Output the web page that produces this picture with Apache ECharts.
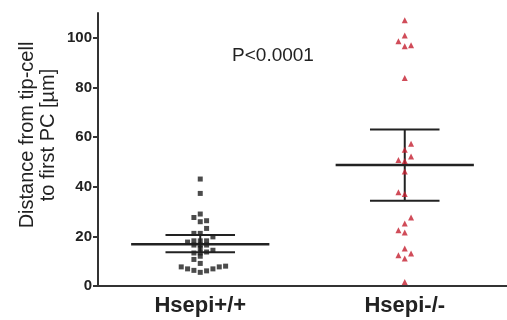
<!DOCTYPE html>
<html>
<head>
<meta charset="utf-8">
<script src="https://cdn.jsdelivr.net/npm/echarts@6/dist/echarts.min.js"></script>
<style>
  html, body { margin: 0; padding: 0; background: #fff; }
  #chart { width: 507px; height: 320px; }
</style>
</head>
<body>
<div id="chart"></div>
<script>
// categories and tick labels
const categories = ["Hsepi+/+", "Hsepi-/-"];
const yTicks = [0, 20, 40, 60, 80, 100];

// individual measurements (µm) and their jitter lane (column offset)
const wtValues = [43.1, 37.3, 29.0, 27.6, 25.9, 26.3, 23.2, 21.2, 21.2, 19.8, 17.7,
  18.2, 18.2, 18.2, 16.5, 16.5, 16.5, 15.1, 13.3, 13.3, 13.7, 14.4, 12.0, 10.7, 9.1,
  7.7, 6.9, 6.3, 5.5, 6.1, 6.9, 7.7, 8.0];
const wtLanes = [0, 0, 0, -1, 0, 1, 1, -1, 0, 2, -2,
  -1, 0, 1, -1, 0, 1, 0, -1, 0, 1, 2, 0, -1, 0,
  -3, -2, -1, 0, 1, 2, 3, 4];

const koValues = [107.1, 100.9, 98.6, 96.6, 97.0, 83.8, 57.3, 54.9, 52.2, 50.8, 50.4,
  46.1, 37.8, 37.1, 27.6, 25.2, 22.5, 21.6, 15.1, 12.4, 13.1, 11.1, 1.6];
const koLanes = [0, 0, -1, 0, 1, 0, 1, 0, 1, -1, 0,
  0, -1, 0, 1, 0, -1, 0, 0, -1, 1, 0, 0];

// mean and 95% CI per group
const means = [16.8, 48.8];
const ciLow = [13.6, 34.4];
const ciHigh = [20.5, 63.1];

const LANE = 0.031;
const toPoints = (vals, lanes, idx) => vals.map((v, i) => [idx + lanes[i] * LANE, v]);

const chart = echarts.init(document.getElementById("chart"));
const txt = "#222";
const font = "Liberation Sans, Arial, sans-serif";

chart.setOption({
  animation: false,
  grid: { left: 98, right: 0, top: 13, bottom: 34 },
  xAxis: [
    {
      type: "category",
      data: categories,
      axisLine: { lineStyle: { color: "#333", width: 2 } },
      axisTick: { alignWithLabel: true, length: 5, lineStyle: { color: "#333", width: 2 } },
      axisLabel: { color: txt, fontSize: 22, fontWeight: "bold", fontFamily: font, margin: 9 }
    },
    { type: "value", min: -0.5, max: 1.5, show: false }
  ],
  yAxis: {
    type: "value",
    min: 0,
    max: 110,
    splitLine: { show: false },
    axisLine: { show: true, onZero: false, lineStyle: { color: "#333", width: 2 } },
    axisTick: { show: true, length: 5, customValues: yTicks, lineStyle: { color: "#333", width: 2 } },
    axisLabel: { color: txt, fontSize: 15, fontWeight: "bold", fontFamily: font, margin: 6, customValues: yTicks }
  },
  graphic: [
    {
      type: "text",
      x: 38, y: 135,
      rotation: Math.PI / 2,
      style: {
        text: "Distance from tip-cell\nto first PC [µm]",
        fontSize: 20, fontFamily: font, fill: txt,
        align: "center", verticalAlign: "middle", lineHeight: 21
      }
    },
    {
      type: "text",
      x: 273, y: 56,
      style: {
        text: "P<0.0001",
        fontSize: 19, fontFamily: font, fill: txt,
        align: "center", verticalAlign: "middle"
      }
    }
  ],
  series: [
    {
      type: "custom",
      xAxisIndex: 1,
      z: 1,
      data: means.map((m, i) => [i, m, ciLow[i], ciHigh[i]]),
      renderItem: function (params, api) {
        const x = api.value(0);
        const mL = api.coord([x - 0.338, api.value(1)]);
        const mR = api.coord([x + 0.338, api.value(1)]);
        const lo = api.coord([x, api.value(2)]);
        const hi = api.coord([x, api.value(3)]);
        const cw = api.size([0.17, 0])[0];
        const st = { stroke: "#222", lineWidth: 2 };
        return {
          type: "group",
          children: [
            { type: "line", shape: { x1: mL[0], y1: mL[1], x2: mR[0], y2: mR[1] }, style: Object.assign({}, st, { lineWidth: 2.5 }) },
            { type: "line", shape: { x1: hi[0], y1: hi[1], x2: lo[0], y2: lo[1] }, style: st },
            { type: "line", shape: { x1: hi[0] - cw, y1: hi[1], x2: hi[0] + cw, y2: hi[1] }, style: st },
            { type: "line", shape: { x1: lo[0] - cw, y1: lo[1], x2: lo[0] + cw, y2: lo[1] }, style: st }
          ]
        };
      }
    },
    {
      type: "scatter",
      xAxisIndex: 1,
      z: 2,
      symbol: "rect",
      symbolSize: 5,
      itemStyle: { color: "#1e1e1e" },
      data: toPoints(wtValues, wtLanes, 0)
    },
    {
      type: "scatter",
      xAxisIndex: 1,
      z: 2,
      symbol: "triangle",
      symbolSize: 6,
      itemStyle: { color: "#c41f30" },
      data: toPoints(koValues, koLanes, 1)
    }
  ]
});
</script>
</body>
</html>
